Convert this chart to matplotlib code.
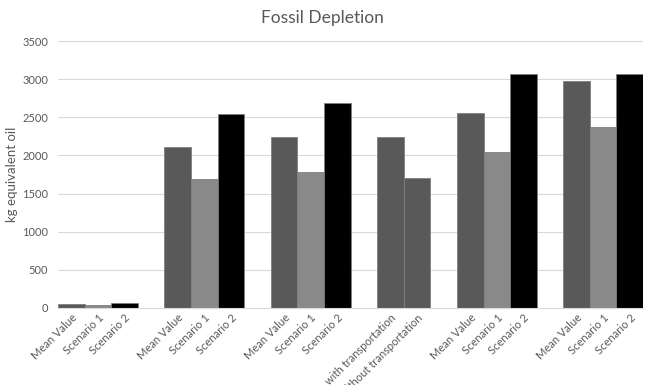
import numpy as np
import matplotlib.pyplot as plt

plt.rcParams['font.family'] = ['Lato', 'DejaVu Sans']

# bar groups, one empty slot between each group
group_labels = [
    ["Mean Value", "Scenario 1", "Scenario 2"],
    ["Mean Value", "Scenario 1", "Scenario 2"],
    ["Mean Value", "Scenario 1", "Scenario 2"],
    ["with transportation", "without transportation"],
    ["Mean Value", "Scenario 1", "Scenario 2"],
    ["Mean Value", "Scenario 1", "Scenario 2"],
]
group_values = [
    [52, 45, 68],
    [2115, 1692, 2542],
    [2237, 1788, 2690],
    [2237, 1701],
    [2551, 2045, 3070],
    [2974, 2376, 3070],
]
yticks = [0, 500, 1000, 1500, 2000, 2500, 3000, 3500]

bar_colors = {
    "Mean Value": "#595959",
    "Scenario 1": "#898989",
    "Scenario 2": "#000000",
    "with transportation": "#595959",
    "without transportation": "#595959",
}
text_col = "#595959"

xs, heights, labels = [], [], []
pos = 0
for lab, vals in zip(group_labels, group_values):
    for l, v in zip(lab, vals):
        xs.append(pos)
        heights.append(v)
        labels.append(l)
        pos += 1
    pos += 1  # gap slot

fig = plt.figure(figsize=(6.45, 3.85), dpi=100)
ax = fig.add_axes([0.09, 0.2, 0.907, 0.6935])

ax.bar(xs, heights, width=1.0, color=[bar_colors[l] for l in labels],
       edgecolor="#7f7f7f", linewidth=0.6, zorder=3)

ax.set_xlim(-0.5, 21.5)
ax.set_ylim(0, 3500)
ax.set_yticks(yticks)
ax.set_yticklabels([str(t) for t in yticks], color=text_col, fontsize=8)
ax.grid(axis="y", color="#d9d9d9", linewidth=0.8, zorder=0)
ax.set_xticks(xs)
ax.set_xticklabels(labels, rotation=45, ha="right", va="top",
                   rotation_mode="anchor", color=text_col, fontsize=8)
ax.tick_params(axis="both", length=0)
ax.tick_params(axis="y", pad=7)
ax.tick_params(axis="x", pad=3)

for s in ["top", "right", "left"]:
    ax.spines[s].set_visible(False)
ax.spines["bottom"].set_color("#d9d9d9")
ax.spines["bottom"].set_zorder(4)

ax.set_ylabel("kg equivalent oil", color=text_col, fontsize=9.5)
ax.yaxis.set_label_coords(-0.068, 0.5)
fig.text(0.5, 0.953, "Fossil Depletion", ha="center", va="center",
         color=text_col, fontsize=12.5)

fig.savefig("out.png", dpi=100)
